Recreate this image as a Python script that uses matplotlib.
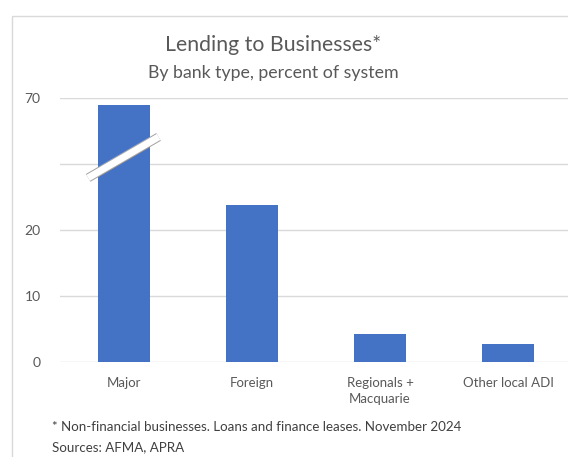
import matplotlib
matplotlib.use("Agg")
import matplotlib.pyplot as plt
from matplotlib.patches import Rectangle

categories = ["Major", "Foreign", "Regionals +\nMacquarie", "Other local ADI"]
values = [69.0, 23.8, 4.2, 2.7]
tick_values = [0, 10, 20, 70]
break_low = 30      # axis is cut between 30 and 60
break_gap = 30

def to_display(v):
    return v - break_gap if v > break_low + 5 else v

plt.rcParams['font.family'] = ['Lato', 'DejaVu Sans']

fig = plt.figure(figsize=(5.68, 4.57), dpi=100)
W, H = 568, 457

# outer frame
fig.patches.append(Rectangle((12 / W, -0.1), 1.2, (H - 16) / H + 0.1, transform=fig.transFigure,
                             fill=False, edgecolor="#d9d9d9", linewidth=1.0))

ax = fig.add_axes([60 / W, (H - 362) / H, 512 / W, (362 - 98) / H])
x = list(range(len(categories)))
disp = [to_display(v) for v in values]
ax.bar(x, disp, width=0.41, color="#4472C4", zorder=2)
ax.set_xlim(-0.5, len(categories) - 0.5)
ax.set_ylim(0, 40)

ax.set_yticks([0, 10, 20, 30, 40])
ax.set_yticklabels(["0", "10", "20", "", "70"])
ax.yaxis.grid(True, color="#d9d9d9", linewidth=1.0, zorder=0)
ax.set_xticks(x)
ax.set_xticklabels(categories, fontsize=9.5, color="#595959", linespacing=1.4)
ax.tick_params(axis="both", length=0)
ax.tick_params(axis="y", labelsize=10, labelcolor="#595959", pad=14)
ax.tick_params(axis="x", pad=11)
for s in ax.spines.values():
    s.set_visible(False)
ax.set_facecolor("none")

# break marker across the broken bar
bi = values.index(max(values))
bx = [bi - 0.28, bi + 0.27]
by = [break_low - 2.1, break_low + 4.1]
ax.plot(bx, by, color="#a6a6a6", lw=6.5, solid_capstyle="butt", zorder=3)
ax.plot(bx, by, color="white", lw=5.0, solid_capstyle="butt", zorder=4)

fig.text(273 / W, 1 - 45 / H, "Lending to Businesses*", ha="center", va="center",
         fontsize=15.3, color="#595959")
fig.text(273 / W, 1 - 73 / H, "By bank type, percent of system", ha="center", va="center",
         fontsize=12.8, color="#595959")
fig.text(52 / W, 1 - 427 / H, "* Non-financial businesses. Loans and finance leases. November 2024",
         ha="left", va="center", fontsize=9.6, color="#404040")
fig.text(52 / W, 1 - 447 / H, "Sources: AFMA, APRA", ha="left", va="center",
         fontsize=9.6, color="#404040")

fig.savefig("out.png", dpi=100, facecolor="white")
